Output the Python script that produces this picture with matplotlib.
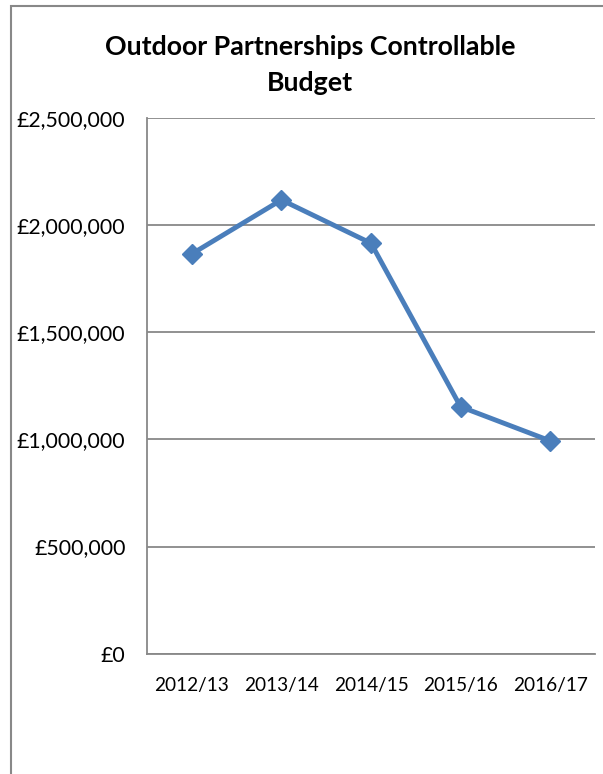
import matplotlib
matplotlib.use('Agg')
import matplotlib.pyplot as plt
from matplotlib.ticker import FuncFormatter
from matplotlib.patches import Rectangle

categories = ['2012/13', '2013/14', '2014/15', '2015/16', '2016/17']
budget = [1865000, 2117000, 1915000, 1152000, 993000]
yticks = [0, 500000, 1000000, 1500000, 2000000, 2500000]
title_lines = ['Outdoor Partnerships Controllable', 'Budget']

W, H = 603, 774
fig = plt.figure(figsize=(W / 100, H / 100), dpi=100)
FONT = ['Lato', 'DejaVu Sans']
GRAY = '#888888'
BLUE = '#4A7EBB'


def px(x):
    return x / W


def py(y):
    return 1 - y / H


renderer = fig.canvas.get_renderer()


def fit_size(s, target, bold=False):
    t = fig.text(0, 0, s, fontsize=10, family=FONT,
                 fontweight='bold' if bold else 'normal')
    w = t.get_window_extent(renderer).width
    t.remove()
    return 10 * target / w


# outer chart frame (cropped at right and bottom)
fig.patches.append(Rectangle((px(11), -0.1), 1.2, py(6) + 0.1,
                             transform=fig.transFigure, fill=False,
                             edgecolor=GRAY, linewidth=1.5))

x0, x1, y0, y1 = 147, 595, 117.8, 653.7
ax = fig.add_axes([px(x0), py(y1), (x1 - x0) / W, (y1 - y0) / H])
ax.plot(categories, budget, color=BLUE, linewidth=3.5, marker='D',
        markersize=10, markerfacecolor=BLUE, markeredgecolor=BLUE,
        solid_joinstyle='round', zorder=3)
ax.set_xlim(-0.5, len(categories) - 0.5)
ax.set_ylim(0, 2500000)
ax.set_yticks(yticks)
ax.yaxis.set_major_formatter(FuncFormatter(lambda v, p: f'£{v:,.0f}'))
ax.grid(axis='y', color=GRAY, linewidth=1.3, zorder=1)
ax.set_axisbelow(True)
for s in ['top', 'right']:
    ax.spines[s].set_visible(False)
for s in ['left', 'bottom']:
    ax.spines[s].set_color(GRAY)
    ax.spines[s].set_linewidth(1.3)

ytick_fs = fit_size('£2,500,000', 108)
xtick_fs = fit_size('2012/13', 75)
ax.tick_params(axis='y', length=0, pad=15.5, labelsize=ytick_fs)
ax.tick_params(axis='x', length=0, pad=17, labelsize=xtick_fs)
for lab in ax.get_xticklabels() + ax.get_yticklabels():
    lab.set_family(FONT)

title_fs = fit_size(title_lines[0], 414, bold=True)
fig.text(px(310), py(55), title_lines[0], ha='center', va='baseline',
         fontsize=title_fs, fontweight='bold', family=FONT)
fig.text(px(310), py(91), title_lines[1], ha='center', va='baseline',
         fontsize=title_fs, fontweight='bold', family=FONT)

fig.savefig('out.png', dpi=100)
